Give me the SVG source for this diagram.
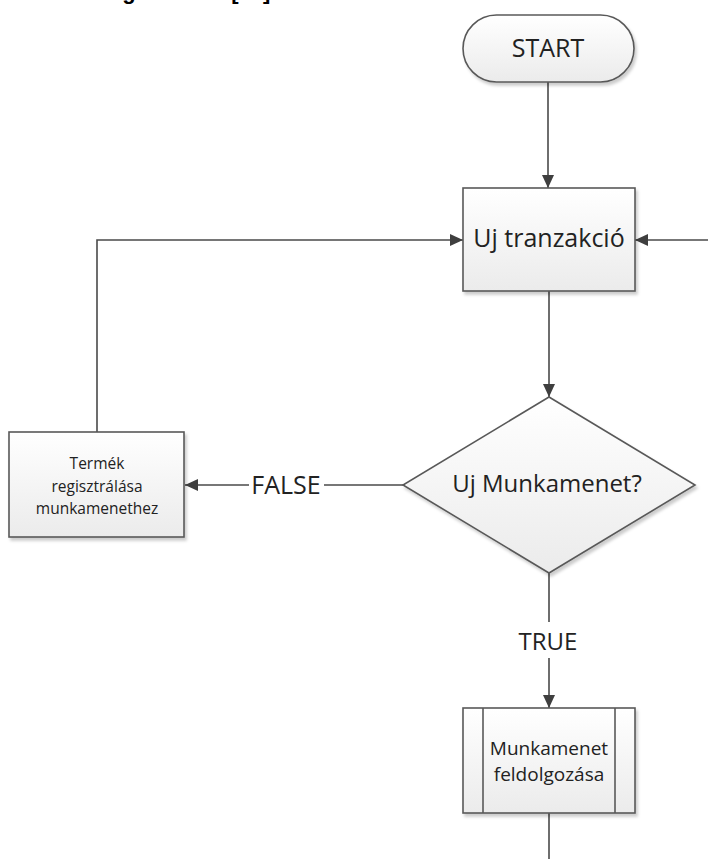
<svg xmlns="http://www.w3.org/2000/svg" width="708" height="859" viewBox="0 0 708 859">
  <defs>
    <linearGradient id="shapeFill" x1="0" y1="0" x2="0" y2="1">
      <stop offset="0" stop-color="#ffffff"/>
      <stop offset="1" stop-color="#ebebeb"/>
    </linearGradient>
    <filter id="shadow" x="-10%" y="-10%" width="125%" height="130%">
      <feDropShadow dx="2" dy="3" stdDeviation="1.6" flood-color="#000" flood-opacity="0.2"/>
    </filter>
    <marker id="arrow" viewBox="0 0 13 12" refX="13" refY="6" markerWidth="13" markerHeight="12" markerUnits="userSpaceOnUse" orient="auto">
      <path d="M0,0 L13,6 L0,12 z" fill="#3f3f3f"/>
    </marker>
  </defs>
  <style>
    .shape { fill: url(#shapeFill); stroke: #595959; stroke-width: 1.6; filter: url(#shadow); }
    .inner { fill: none; stroke: #595959; stroke-width: 1.6; }
    .edge { fill: none; stroke: #4a4a4a; stroke-width: 1.6; }
    .label { font-family: "Open Sans", "Liberation Sans", sans-serif; fill: #222222; text-anchor: middle; }
    .title { font-family: "Liberation Sans", sans-serif; font-weight: bold; fill: #000; }
  </style>

  <rect width="708" height="859" fill="#ffffff"/>

  <!-- heading line, mostly above the visible area -->
  <text class="title" x="88" y="-1" font-size="22" word-spacing="49">Diagram [10]</text>

  <!-- connectors -->
  <g id="connectors">
    <path class="edge" d="M548,82 L548,188" marker-end="url(#arrow)"/>
    <path class="edge" d="M549,291 L549,397" marker-end="url(#arrow)"/>
    <path class="edge" d="M708,240 L635,240" marker-end="url(#arrow)"/>
    <path class="edge" d="M97,432 L97,240 L463,240" marker-end="url(#arrow)"/>
    <path class="edge" d="M403,485 L324,485"/>
    <path class="edge" d="M249,485 L185,485" marker-end="url(#arrow)"/>
    <text class="label" x="286" y="494" font-size="25">FALSE</text>
    <path class="edge" d="M549,573 L549,622"/>
    <path class="edge" d="M549,658 L549,708" marker-end="url(#arrow)"/>
    <text class="label" x="548" y="650" font-size="24">TRUE</text>
    <path class="edge" d="M549,813 L549,859"/>
  </g>

  <g id="start">
    <rect class="shape" x="463" y="15" width="171" height="67" rx="33.5" ry="33.5"/>
    <text class="label" x="548" y="57" font-size="25">START</text>
  </g>

  <g id="uj-tranzakcio">
    <rect class="shape" x="463" y="188" width="172" height="103"/>
    <text class="label" x="549" y="247" font-size="25">Uj tranzakció</text>
  </g>

  <g id="uj-munkamenet">
    <polygon class="shape" points="549,397 695,485 549,573 403,485"/>
    <text class="label" x="547" y="492" font-size="24">Uj Munkamenet?</text>
  </g>

  <g id="termek-regisztralasa">
    <rect class="shape" x="9" y="432" width="175" height="105"/>
    <text class="label" x="97" y="469" font-size="15.5">Termék</text>
    <text class="label" x="97" y="492" font-size="15.5">regisztrálása</text>
    <text class="label" x="97" y="514" font-size="15.5">munkamenethez</text>
  </g>

  <g id="munkamenet-feldolgozasa">
    <rect class="shape" x="463" y="708" width="172" height="105"/>
    <line class="inner" x1="483" y1="708" x2="483" y2="813"/>
    <line class="inner" x1="615" y1="708" x2="615" y2="813"/>
    <text class="label" x="549" y="755" font-size="19">Munkamenet</text>
    <text class="label" x="549" y="781" font-size="19">feldolgozása</text>
  </g>
</svg>
